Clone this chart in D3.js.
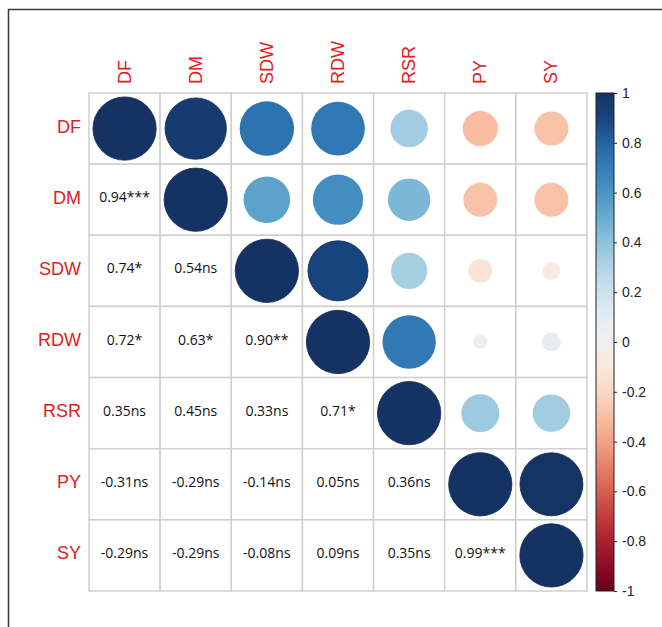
<!DOCTYPE html>
<html>
<head>
<meta charset="utf-8">
<script src="https://cdn.jsdelivr.net/npm/d3@7"></script>
<style>
  body { margin: 0; background: #fff; }
  svg { display: block; }
</style>
</head>
<body>
<script>
//Variables (rows and columns share the same order)
var vars = ["DF", "DM", "SDW", "RDW", "RSR", "PY", "SY"];

//Lower triangle correlation values, row by row
var corr = [
  [1],
  [0.94, 1],
  [0.74, 0.54, 1],
  [0.72, 0.63, 0.90, 1],
  [0.35, 0.45, 0.33, 0.71, 1],
  [-0.31, -0.29, -0.14, 0.05, 0.36, 1],
  [-0.29, -0.29, -0.08, 0.09, 0.35, 0.99, 1]
];

//Significance marks for the lower triangle
var sig = [
  [""],
  ["***", ""],
  ["*", "ns", ""],
  ["*", "*", "**", ""],
  ["ns", "ns", "ns", "*", ""],
  ["ns", "ns", "ns", "ns", "ns", ""],
  ["ns", "ns", "ns", "ns", "ns", "***", ""]
];

//Colour bar ticks
var barTicks = [1, 0.8, 0.6, 0.4, 0.2, 0, -0.2, -0.4, -0.6, -0.8, -1];

var W = 662, H = 627;

//Grid position
var grid = {left: 89, top: 93, size: 498};

var svg = d3.select("body")
  .append("svg")
  .attr("width", W)
  .attr("height", H);

//Outer frame (right and bottom run off the picture)
svg.append("rect")
  .attr("x", 8.5)
  .attr("y", 9.5)
  .attr("width", 700)
  .attr("height", 700)
  .attr("fill", "none")
  .attr("stroke", "#3a3a3a")
  .attr("stroke-width", 1.5);

var x = d3.scaleBand().domain(vars).range([grid.left, grid.left + grid.size]);
var y = d3.scaleBand().domain(vars).range([grid.top, grid.top + grid.size]);
//RdBu, darkest blue a bit softened like the printed figure
var palette = function (t) {
  return d3.interpolateRgb(d3.interpolateRdBu(t), "#1f3466")(Math.max(0, (t - 0.9) * 6));
};
var color = d3.scaleSequential(palette).domain([-1, 1]);
var cell = x.bandwidth();
var rScale = d3.scaleSqrt().domain([0, 1]).range([0, cell * 0.445]);

//Build full matrix from the lower triangle
var cells = [];
vars.forEach(function (rv, i) {
  vars.forEach(function (cv, j) {
    var v = i >= j ? corr[i][j] : corr[j][i];
    cells.push({row: rv, col: cv, i: i, j: j, v: v, s: i > j ? sig[i][j] : ""});
  });
});

var g = svg.append("g");

//Cell borders
g.selectAll("rect.cell")
  .data(cells)
  .enter()
  .append("rect")
  .attr("class", "cell")
  .attr("x", function (d) { return x(d.col); })
  .attr("y", function (d) { return y(d.row); })
  .attr("width", cell)
  .attr("height", cell)
  .attr("fill", "#fff")
  .attr("stroke", "#cfcfcf")
  .attr("stroke-width", 1.5);

//Circles on the diagonal and upper triangle
g.selectAll("circle")
  .data(cells.filter(function (d) { return d.j >= d.i; }))
  .enter()
  .append("circle")
  .attr("cx", function (d) { return x(d.col) + cell / 2; })
  .attr("cy", function (d) { return y(d.row) + cell / 2; })
  .attr("r", function (d) { return rScale(Math.abs(d.v)); })
  .attr("fill", function (d) { return color(d.v); })
  .attr("stroke", function (d) { return Math.abs(d.v) > 0.85 ? "#1a2950" : "none"; })
  .attr("stroke-width", 0.8);

//Values in the lower triangle
g.selectAll("text.val")
  .data(cells.filter(function (d) { return d.i > d.j; }))
  .enter()
  .append("text")
  .attr("class", "val")
  .attr("x", function (d) { return x(d.col) + cell / 2; })
  .attr("y", function (d) { return y(d.row) + cell / 2 - 3; })
  .attr("text-anchor", "middle")
  .attr("dominant-baseline", "central")
  .attr("font-family", "'Open Sans', sans-serif")
  .attr("font-size", "14px")
  .attr("fill", "#111")
  .text(function (d) { return d.v.toFixed(2) + d.s; });

//Row labels
svg.selectAll("text.rowlab")
  .data(vars)
  .enter()
  .append("text")
  .attr("class", "rowlab")
  .attr("x", grid.left - 8)
  .attr("y", function (d) { return y(d) + cell / 2 - 2; })
  .attr("text-anchor", "end")
  .attr("dominant-baseline", "central")
  .attr("font-family", "'Liberation Sans', Arial, sans-serif")
  .attr("font-size", "18px")
  .attr("fill", "#e0201e")
  .text(function (d) { return d; });

//Column labels, rotated
svg.selectAll("text.collab")
  .data(vars)
  .enter()
  .append("text")
  .attr("class", "collab")
  .attr("transform", function (d) {
    return "translate(" + (x(d) + cell / 2) + "," + (grid.top - 9) + ") rotate(-90)";
  })
  .attr("text-anchor", "start")
  .attr("dominant-baseline", "central")
  .attr("font-family", "'Liberation Sans', Arial, sans-serif")
  .attr("font-size", "18px")
  .attr("fill", "#e0201e")
  .text(function (d) { return d; });

//Colour bar
var bar = {x: 596, w: 18};
var barY = d3.scaleLinear().domain([-1, 1]).range([grid.top + grid.size, grid.top]);

var grad = svg.append("defs")
  .append("linearGradient")
  .attr("id", "cbar")
  .attr("x1", 0).attr("y1", 1)
  .attr("x2", 0).attr("y2", 0);

grad.selectAll("stop")
  .data(d3.range(0, 1.001, 0.05))
  .enter()
  .append("stop")
  .attr("offset", function (t) { return t; })
  .attr("stop-color", function (t) { return palette(t); });

svg.append("rect")
  .attr("x", bar.x)
  .attr("y", grid.top)
  .attr("width", bar.w)
  .attr("height", grid.size)
  .attr("fill", "url(#cbar)")
  .attr("stroke", "#222")
  .attr("stroke-width", 1);

var axis = d3.axisRight(barY)
  .tickValues(barTicks)
  .tickSize(3)
  .tickPadding(5)
  .tickFormat(function (d) { return String(+d.toFixed(1)); });

var ax = svg.append("g")
  .attr("transform", "translate(" + (bar.x + bar.w) + ",0)")
  .call(axis);

ax.select(".domain").remove();
ax.selectAll("line").attr("stroke", "#222");
ax.selectAll("text")
  .attr("font-family", "'Liberation Sans', Arial, sans-serif")
  .attr("font-size", "14px")
  .attr("fill", "#222");
</script>
</body>
</html>
